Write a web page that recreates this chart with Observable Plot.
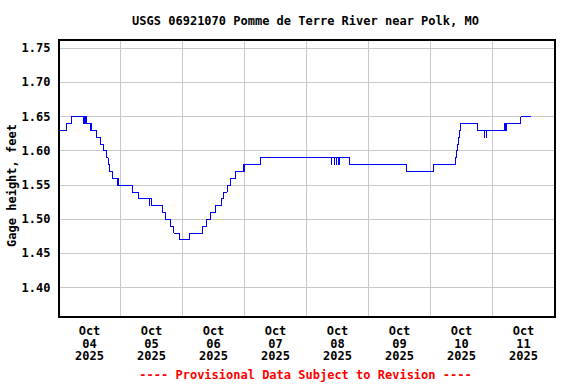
<!DOCTYPE html>
<html>
<head>
<meta charset="utf-8">
<script src="https://cdn.jsdelivr.net/npm/d3@7"></script>
<script src="https://cdn.jsdelivr.net/npm/@observablehq/plot@0.6"></script>
<style>
  html, body { margin: 0; padding: 0; background: #fff; overflow: hidden; }
  #wrap { position: relative; width: 576px; height: 384px; font-family: "DejaVu Sans Mono", monospace; font-weight: bold; font-size: 12px; }
  .hdr { position: absolute; left: 35px; width: 541px; text-align: center; line-height: 14px; white-space: nowrap; }
  #title { top: 14px; color: #000; }
  #foot { top: 368px; color: #ff0000; }
</style>
</head>
<body>
<div id="wrap">
  <div id="chart"></div>
  <div id="title" class="hdr"></div>
  <div id="foot" class="hdr"></div>
</div>
<script>
const titleText = "USGS 06921070 Pomme de Terre River near Polk, MO";
const footerText = "---- Provisional Data Subject to Revision ----";
const yLabel = "Gage height, feet";

// Step-change points of the gage-height series: hours after Oct 04 2025 00:00, level (ft)
const stepHours = [
  0, 3.0, 5.0, 9.8, 10.1, 10.5, 10.75, 11.0, 12.4, 12.6, 12.8,
  14.6, 16.4, 17.5, 18.6, 19.2, 19.9, 20.8, 22.7, 22.9, 23.1,
  28.5, 30.8, 35.2, 35.4, 36.0, 40.1, 41.4, 43.4, 44.6, 46.8,
  50.8, 55.9, 57.4, 59.0, 60.9, 63.0, 64.0, 65.4, 66.5, 68.4,
  71.6, 71.8, 72.0, 78.1,
  105.68, 105.72, 106.65, 106.69, 107.42, 107.46, 108.58, 108.62,
  112.6, 134.6, 145.2, 153.8, 154.1, 154.5, 155.0, 155.2, 155.6,
  162.2, 164.8, 164.85, 165.6, 165.65, 166.0,
  172.6, 173.0, 173.4, 179.0, 182.6
];
const stepLevels = [
  1.63, 1.64, 1.65, 1.64, 1.65, 1.64, 1.65, 1.64, 1.63, 1.64, 1.63,
  1.62, 1.61, 1.60, 1.59, 1.58, 1.57, 1.56, 1.55, 1.56, 1.55,
  1.54, 1.53, 1.52, 1.53, 1.52, 1.51, 1.50, 1.49, 1.48, 1.47,
  1.48, 1.49, 1.50, 1.51, 1.52, 1.53, 1.54, 1.55, 1.56, 1.57,
  1.58, 1.57, 1.58, 1.59,
  1.58, 1.59, 1.58, 1.59, 1.58, 1.59, 1.58, 1.59,
  1.58, 1.57, 1.58, 1.59, 1.60, 1.61, 1.62, 1.63, 1.64,
  1.63, 1.62, 1.63, 1.62, 1.63, 1.63,
  1.64, 1.63, 1.64, 1.65, 1.65
];

const yTicks = [1.40, 1.45, 1.50, 1.55, 1.60, 1.65, 1.70, 1.75];
const tickDays = [4, 5, 6, 7, 8, 9, 10, 11];           // labelled at noon of each day
const xTickLabels = ["Oct\n04\n2025", "Oct\n05\n2025", "Oct\n06\n2025", "Oct\n07\n2025",
                     "Oct\n08\n2025", "Oct\n09\n2025", "Oct\n10\n2025", "Oct\n11\n2025"];
const gridDays = [5, 6, 7, 8, 9, 10, 11];              // midnight grid lines

const t0 = Date.UTC(2025, 9, 4);
const data = stepHours.map((h, i) => ({t: new Date(t0 + h * 3600e3), v: stepLevels[i]}));
const tickDates = tickDays.map(d => new Date(Date.UTC(2025, 9, d, 12)));
const gridDates = gridDays.map(d => new Date(Date.UTC(2025, 9, d)));
const labelFor = new Map(tickDates.map((d, i) => [+d, xTickLabels[i]]));

const chart = Plot.plot({
  width: 576,
  height: 384,
  marginLeft: 58,
  marginRight: 22,
  marginTop: 39,
  marginBottom: 68,
  style: {fontFamily: "DejaVu Sans Mono, monospace", fontSize: "12px", fontWeight: "bold", color: "#000", background: "#fff"},
  x: {type: "utc", domain: [new Date(Date.UTC(2025, 9, 4)), new Date(Date.UTC(2025, 9, 12))]},
  y: {domain: [1.358, 1.763]},
  marks: [
    Plot.gridY(yTicks, {stroke: "#c8c8c8", strokeOpacity: 1, shapeRendering: "crispEdges"}),
    Plot.gridX(gridDates, {stroke: "#c8c8c8", strokeOpacity: 1, shapeRendering: "crispEdges"}),
    Plot.line(data, {x: "t", y: "v", curve: "step-after", stroke: "#0000ff", strokeWidth: 1, shapeRendering: "crispEdges"}),
    Plot.axisY(yTicks, {tickSize: 0, tickPadding: 8, tickFormat: d3.format(".2f"), label: null}),
    Plot.axisX(tickDates, {tickSize: 0, tickPadding: 9.5, lineHeight: 1.056, tickFormat: d => labelFor.get(+d), label: null}),
    Plot.text([yLabel], {frameAnchor: "left", textAnchor: "middle", rotate: -90, lineAnchor: "top", dx: -51.5, dy: 7.5, fill: "#000"}),
    Plot.frame({stroke: "#000", strokeWidth: 2, shapeRendering: "crispEdges"})
  ]
});
document.getElementById("chart").appendChild(chart);
document.getElementById("title").textContent = titleText;
document.getElementById("foot").textContent = footerText;
</script>
</body>
</html>
